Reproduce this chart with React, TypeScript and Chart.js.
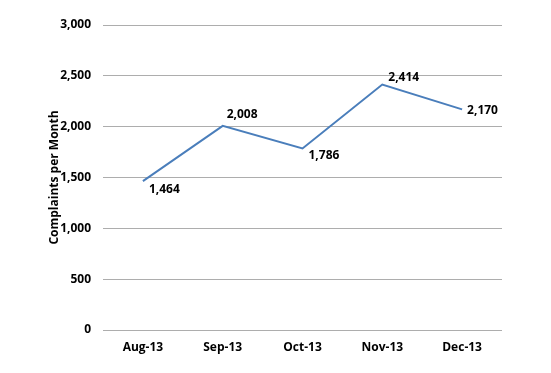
import React, { useEffect, useRef } from "react";
import { Chart, registerables } from "chart.js";

Chart.register(...registerables);

const categories = ["Aug-13", "Sep-13", "Oct-13", "Nov-13", "Dec-13"];
const complaints = [1464, 2008, 1786, 2414, 2170];
const yTicks = [0, 500, 1000, 1500, 2000, 2500, 3000];

// label offsets (style, px) relative to each point
const labelOffsets = [
  [6, 8],
  [4, -11],
  [6, 7],
  [6, -7],
  [5, 1],
];

const FONT = "'Open Sans', Lato, sans-serif";

const fmt = (v: number) => v.toLocaleString("en-US");

const dataLabelPlugin = {
  id: "dataLabels",
  afterDatasetsDraw(chart: any) {
    const ctx = chart.ctx;
    const meta = chart.getDatasetMeta(0);
    ctx.save();
    ctx.font = `bold 12px ${FONT}`;
    ctx.fillStyle = "#000";
    ctx.textAlign = "left";
    ctx.textBaseline = "middle";
    meta.data.forEach((pt: any, i: number) => {
      const [dx, dy] = labelOffsets[i];
      ctx.fillText(fmt(complaints[i]), pt.x + dx, pt.y + dy);
    });
    ctx.restore();
  },
};

export default function App() {
  const ref = useRef<HTMLCanvasElement>(null);
  useEffect(() => {
    document.body.style.margin = "0";
    const chart = new Chart(ref.current!, {
      type: "line",
      data: {
        labels: categories,
        datasets: [
          {
            data: complaints,
            borderColor: "#4A7EBB",
            borderWidth: 2,
            pointRadius: 0,
            tension: 0,
            fill: false,
          },
        ],
      },
      options: {
        animation: false,
        responsive: false,
        maintainAspectRatio: false,
        layout: { padding: { left: 0, right: 49, top: 25, bottom: 0 } },
        plugins: { legend: { display: false }, tooltip: { enabled: false } },
        scales: {
          x: {
            offset: true,
            grid: { display: false, drawTicks: false },
            border: { display: false },
            ticks: {
              padding: 10,
              color: "#000",
              font: { family: FONT, size: 12, weight: "bold" },
            },
            afterFit(scale: any) {
              scale.height = 43;
            },
          },
          y: {
            min: 0,
            max: 3000,
            afterBuildTicks(scale: any) {
              scale.ticks = yTicks.map((v) => ({ value: v }));
            },
            grid: { color: "#ADADAD", lineWidth: 1, drawTicks: false },
            border: { display: false },
            ticks: {
              padding: 12,
              color: "#000",
              font: { family: FONT, size: 12, weight: "bold" },
              callback: (v: any) => fmt(Number(v)),
            },
            title: {
              display: true,
              text: "Complaints per Month",
              color: "#000",
              font: { family: FONT, size: 12, weight: "bold" },
              padding: { top: 47, bottom: 0 },
            },
            afterFit(scale: any) {
              scale.width = 103;
            },
          },
        },
      },
      plugins: [dataLabelPlugin],
    });
    return () => chart.destroy();
  }, []);
  return (
    <div style={{ position: "fixed", left: 0, top: 0, width: 551, height: 373, background: "#fff" }}>
      <canvas ref={ref} width={551} height={373} style={{ width: 551, height: 373 }} />
    </div>
  );
}
